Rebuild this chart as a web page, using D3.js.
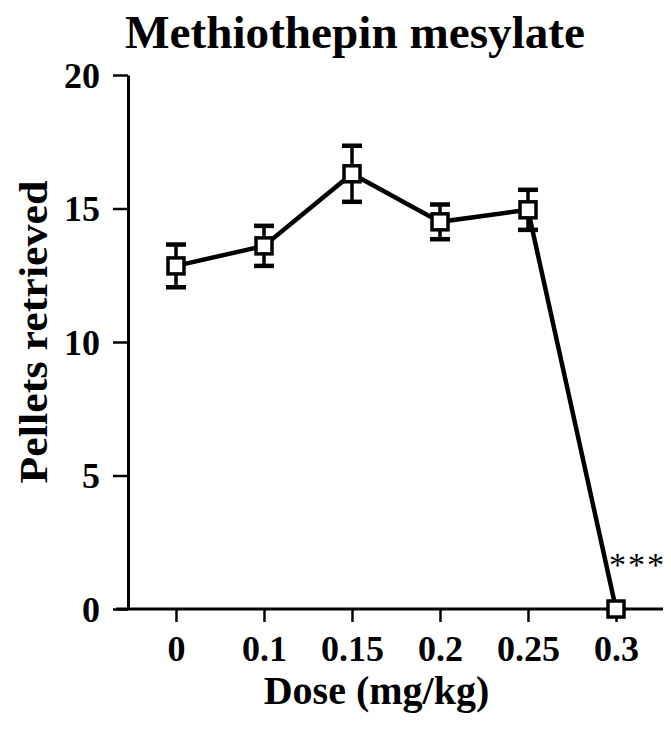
<!DOCTYPE html>
<html lang="en">
<head>
<meta charset="utf-8">
<script src="https://d3js.org/d3.v7.min.js"></script>
<style type="text/css">
body {
	margin: 0;
	background: #fff;
}
text {
	font-family: "Liberation Serif", "Times New Roman", serif;
	font-weight: bold;
	fill: #000;
}
</style>
</head>
<body>
<script type="text/javascript">

// data
const doses = ['0', '0.1', '0.15', '0.2', '0.25', '0.3'];
const pellets = [12.85, 13.6, 16.3, 14.5, 14.95, 0];
const sem = [0.8, 0.75, 1.05, 0.65, 0.75, 0];
const yTicks = [0, 5, 10, 15, 20];
const signif = ['', '', '', '', '', '***'];

const width = 671;
const height = 734;

// plot frame
const plotLeft = 128, plotRight = 663, plotTop = 75, plotBottom = 609;

const svg = d3.select("body")
			.append("svg")
			.attr("width", width)
			.attr("height", height);

const x = d3.scalePoint()
			.domain(doses)
			.range([176, 616]);

const y = d3.scaleLinear()
			.domain([0, 20])
			.range([plotBottom, plotTop]);

// title
svg.append("text")
	.attr("x", 125)
	.attr("y", 48)
	.attr("textLength", 460)
	.attr("lengthAdjust", "spacingAndGlyphs")
	.style("font-size", "46px")
	.text("Methiothepin mesylate");

// y axis
const yAxis = svg.append("g")
	.attr("transform", `translate(${plotLeft},0)`)
	.call(d3.axisLeft(y).tickValues(yTicks).tickSize(15).tickSizeOuter(0).tickPadding(13));
yAxis.select(".domain").attr("stroke", "#000").attr("stroke-width", 3);
yAxis.selectAll(".tick line").attr("stroke", "#000").attr("stroke-width", 2.5);
yAxis.selectAll(".tick text")
	.style("font-size", "36px")
	.style("font-family", "'Liberation Serif', serif")
	.attr("dy", "0.34em");

// x axis
const xAxis = svg.append("g")
	.attr("transform", `translate(0,${plotBottom})`)
	.call(d3.axisBottom(x).tickSize(13).tickSizeOuter(0).tickPadding(14));
xAxis.select(".domain").remove();
xAxis.selectAll(".tick line").attr("stroke", "#000").attr("stroke-width", 2.5);
xAxis.selectAll(".tick text")
	.style("font-size", "36px")
	.style("font-family", "'Liberation Serif', serif")
	.attr("dy", "0.7em");
svg.append("line")
	.attr("x1", 116).attr("x2", plotRight)
	.attr("y1", plotBottom).attr("y2", plotBottom)
	.attr("stroke", "#000")
	.attr("stroke-width", 3);

// axis titles
svg.append("text")
	.attr("text-anchor", "middle")
	.attr("x", (plotLeft + plotRight) / 2 - 19)
	.attr("y", 704)
	.style("font-size", "40px")
	.text("Dose (mg/kg)");

svg.append("text")
	.attr("text-anchor", "middle")
	.attr("transform", "translate(47,332) rotate(-90)")
	.attr("textLength", 303)
	.attr("lengthAdjust", "spacingAndGlyphs")
	.style("font-size", "40px")
	.text("Pellets retrieved");

const pts = doses.map((d, i) => ({dose: d, mean: pellets[i], err: sem[i], star: signif[i]}));

// connecting line
svg.append("path")
	.datum(pts)
	.attr("fill", "none")
	.attr("stroke", "#000")
	.attr("stroke-width", 4.5)
	.attr("d", d3.line().x(d => x(d.dose)).y(d => y(d.mean)));

// error bars
const eb = svg.selectAll(".err")
	.data(pts.filter(d => d.err > 0))
	.enter()
	.append("g")
	.attr("class", "err");
eb.append("line")
	.attr("x1", d => x(d.dose)).attr("x2", d => x(d.dose))
	.attr("y1", d => y(d.mean - d.err)).attr("y2", d => y(d.mean + d.err))
	.attr("stroke", "#000").attr("stroke-width", 3.5);
eb.selectAll(".cap")
	.data(d => [[d.dose, d.mean - d.err], [d.dose, d.mean + d.err]])
	.enter()
	.append("line")
	.attr("x1", d => x(d[0]) - 10).attr("x2", d => x(d[0]) + 10)
	.attr("y1", d => y(d[1])).attr("y2", d => y(d[1]))
	.attr("stroke", "#000").attr("stroke-width", 4.5);

// open square markers
svg.selectAll(".pt")
	.data(pts)
	.enter()
	.append("rect")
	.attr("x", d => x(d.dose) - 8)
	.attr("y", d => y(d.mean) - 8)
	.attr("width", 16)
	.attr("height", 16)
	.attr("fill", "#fff")
	.attr("stroke", "#000")
	.attr("stroke-width", 3.5);

// significance stars
svg.selectAll(".star")
	.data(pts.filter(d => d.star))
	.enter()
	.append("text")
	.attr("x", d => x(d.dose) - 7)
	.attr("y", d => y(d.mean) - 33)
	.style("font-weight", "normal")
	.style("font-size", "34px")
	.style("letter-spacing", "2px")
	.text(d => d.star);

</script>
</body>
</html>
